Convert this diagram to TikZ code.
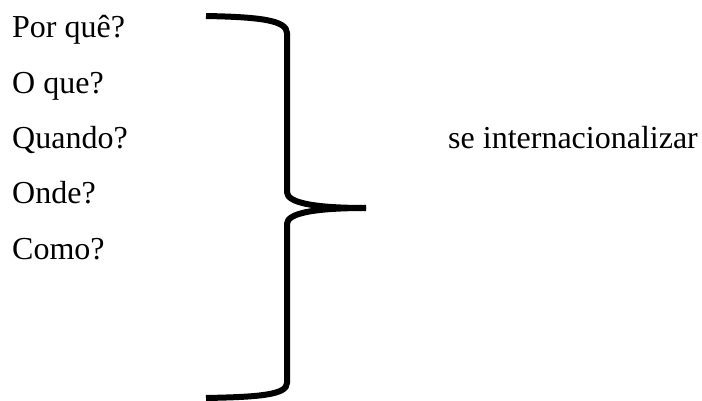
\documentclass[tikz,border=0pt]{standalone}
\usepackage{fontspec}
\setmainfont{Liberation Serif}
\usetikzlibrary{positioning}
\tikzset{
  question/.style={anchor=base west, inner sep=0pt, font=\fontsize{32}{38}\selectfont},
  goal/.style={anchor=base west, inner sep=0pt, font=\fontsize{32}{38}\selectfont},
  bracestroke/.style={line width=6pt, line cap=butt, line join=round},
}
\begin{document}
\begin{tikzpicture}[x=1pt,y=-1pt]
\useasboundingbox (0,0) rectangle (702,401);

\node[question] (why) at (12,38) {Por quê?};
\node[question] (what) at (12,94) {O que?};
\node[question] (when) at (12,149) {Quando?};
\node[question] (where) at (12,204) {Onde?};
\node[question] (how) at (12,259) {Como?};

\node[goal] (intl) at (448,149) {se internacionalizar};

\coordinate (bracetop) at (206,16);
\coordinate (bracetip) at (366,208);
\coordinate (bracebot) at (206,398);

\draw[bracestroke] (bracetop) .. controls (258,17) and (287,20) .. (287,33)
  -- (287,192) .. controls (287,202) and (310,208) .. (bracetip);
\draw[bracestroke] (bracetip) .. controls (310,208) and (287,214) .. (287,224)
  -- (287,383) .. controls (287,395) and (258,397) .. (bracebot);
\end{tikzpicture}
\end{document}
